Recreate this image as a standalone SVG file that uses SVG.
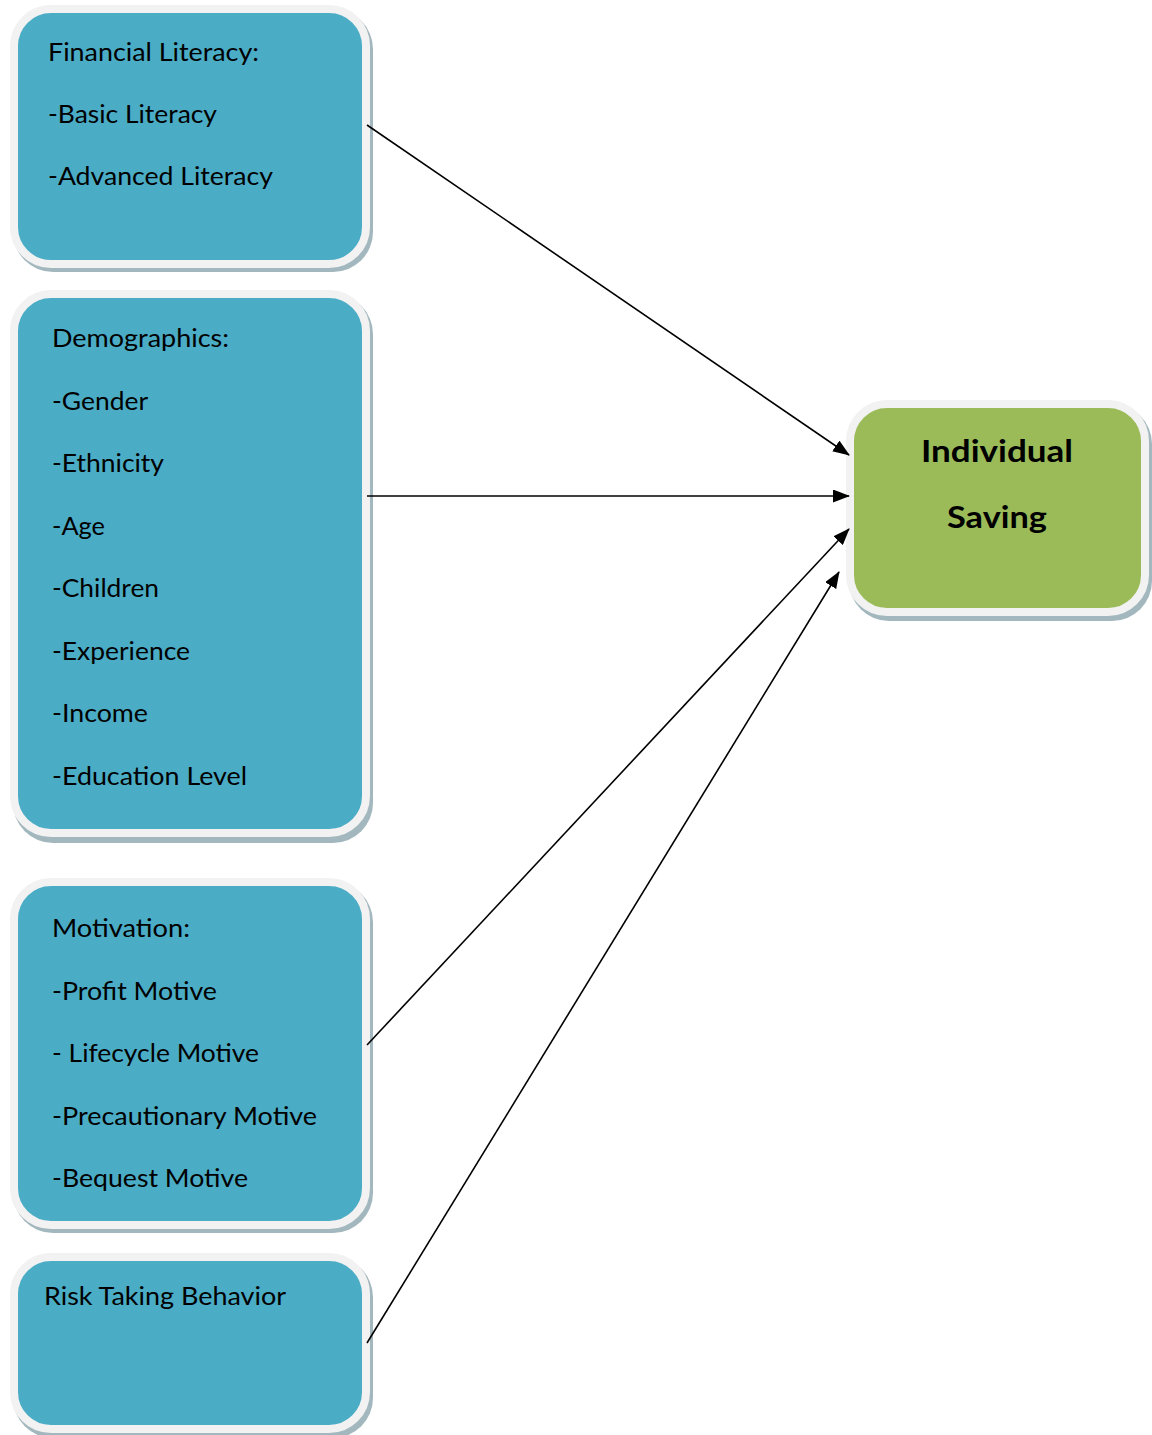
<svg xmlns="http://www.w3.org/2000/svg" width="1152" height="1435" viewBox="0 0 1152 1435">
<defs>
<style>
.sh{fill:#a3b8be;}
.bx{fill:#4BACC6;stroke:#f2f2f2;stroke-width:8;}
.gx{fill:#9BBB59;stroke:#f2f2f2;stroke-width:8;}
.t{font-family:Lato,"Open Sans",sans-serif;font-size:25px;fill:#000;}
.tb{font-family:Lato,"Open Sans",sans-serif;font-size:31px;font-weight:bold;fill:#000;text-anchor:middle;}
.ln{stroke:#000;stroke-width:1.6;fill:none;marker-end:url(#ah);}
</style>
<marker id="ah" markerWidth="17" markerHeight="13" refX="16" refY="6.5" orient="auto" markerUnits="userSpaceOnUse">
<path d="M0,0 L17,6.5 L0,13 Z" fill="#000"/>
</marker>
</defs>
<rect width="1152" height="1435" fill="#fff"/>

<g id="financial-literacy">
<rect class="sh" x="13" y="9" width="360" height="263" rx="40"/>
<rect class="bx" x="14" y="9" width="352" height="255" rx="37"/>
<text class="t" x="48" y="61" textLength="211" lengthAdjust="spacingAndGlyphs">Financial Literacy:</text>
<text class="t" x="48" y="123" textLength="169" lengthAdjust="spacingAndGlyphs">-Basic Literacy</text>
<text class="t" x="48" y="185" textLength="225" lengthAdjust="spacingAndGlyphs">-Advanced Literacy</text>
</g>

<g id="demographics">
<rect class="sh" x="13" y="294" width="360" height="549" rx="40"/>
<rect class="bx" x="14" y="294" width="352" height="539" rx="37"/>
<text class="t" x="52" y="347" textLength="177" lengthAdjust="spacingAndGlyphs">Demographics:</text>
<text class="t" x="52" y="410" textLength="96" lengthAdjust="spacingAndGlyphs">-Gender</text>
<text class="t" x="52" y="472" textLength="112" lengthAdjust="spacingAndGlyphs">-Ethnicity</text>
<text class="t" x="52" y="535" textLength="53" lengthAdjust="spacingAndGlyphs">-Age</text>
<text class="t" x="52" y="597" textLength="107" lengthAdjust="spacingAndGlyphs">-Children</text>
<text class="t" x="52" y="660" textLength="138" lengthAdjust="spacingAndGlyphs">-Experience</text>
<text class="t" x="52" y="722" textLength="96" lengthAdjust="spacingAndGlyphs">-Income</text>
<text class="t" x="52" y="785" textLength="195" lengthAdjust="spacingAndGlyphs">-Education Level</text>
</g>

<g id="motivation">
<rect class="sh" x="13" y="882" width="360" height="351" rx="40"/>
<rect class="bx" x="14" y="882" width="352" height="343" rx="37"/>
<text class="t" x="52" y="937" textLength="138" lengthAdjust="spacingAndGlyphs">Motivation:</text>
<text class="t" x="52" y="1000" textLength="165" lengthAdjust="spacingAndGlyphs">-Profit Motive</text>
<text class="t" x="52" y="1062" textLength="207" lengthAdjust="spacingAndGlyphs">- Lifecycle Motive</text>
<text class="t" x="52" y="1125" textLength="265" lengthAdjust="spacingAndGlyphs">-Precautionary Motive</text>
<text class="t" x="52" y="1187" textLength="196" lengthAdjust="spacingAndGlyphs">-Bequest Motive</text>
</g>

<g id="risk-taking">
<rect class="sh" x="13" y="1257" width="360" height="181" rx="40"/>
<rect class="bx" x="14" y="1257" width="352" height="172" rx="37"/>
<text class="t" x="44" y="1305" textLength="242" lengthAdjust="spacingAndGlyphs">Risk Taking Behavior</text>
</g>

<g id="individual-saving">
<rect class="sh" x="849" y="404" width="303" height="217" rx="40"/>
<rect class="gx" x="850" y="404" width="295" height="208" rx="37"/>
<text class="tb" x="997" y="462" textLength="152" lengthAdjust="spacingAndGlyphs">Individual</text>
<text class="tb" x="997" y="528" textLength="100" lengthAdjust="spacingAndGlyphs">Saving</text>
</g>

<g id="connectors">
<line class="ln" x1="367" y1="125" x2="849" y2="455"/>
<line class="ln" x1="367" y1="496" x2="849" y2="496"/>
<line class="ln" x1="367" y1="1045" x2="849" y2="529"/>
<line class="ln" x1="367" y1="1343" x2="839" y2="572"/>
</g>
</svg>
